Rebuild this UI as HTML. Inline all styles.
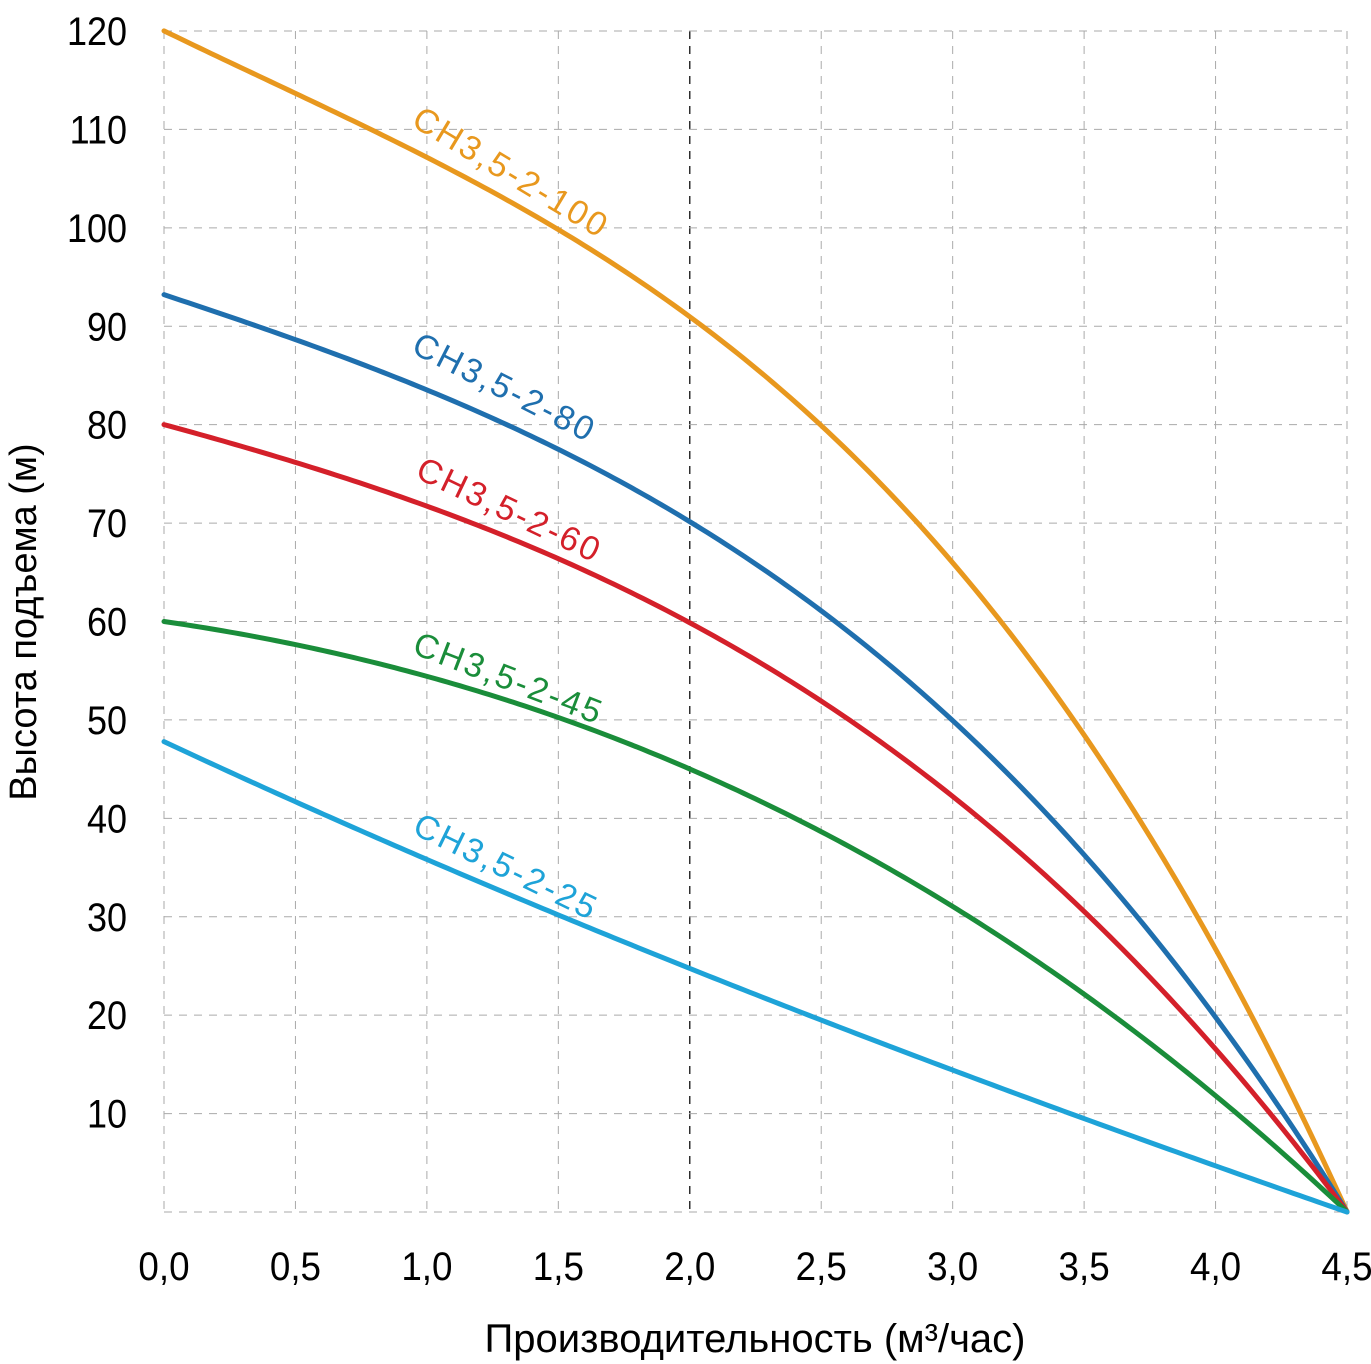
<!DOCTYPE html>
<html><head><meta charset="utf-8">
<style>
html,body{margin:0;padding:0;background:#fff;}
svg{display:block;}
text{font-family:"Liberation Sans","DejaVu Sans",sans-serif;}
</style></head>
<body>
<svg id="chart" width="1371" height="1364" viewBox="0 0 1371 1364" xmlns="http://www.w3.org/2000/svg">
<g id="grid"></g>
<g id="yticks"></g>
<g id="xticks"></g>
<g id="series"></g>
<g id="labels"></g>
<text x="755" y="1352" text-anchor="middle" font-size="40">Производительность (м³/час)</text>
<text x="0" y="0" text-anchor="middle" font-size="38" transform="translate(36 622) rotate(-90)">Высота подъема (м)</text>
</svg>
<script>
const xCats = [0,0.5,1.0,1.5,2.0,2.5,3.0,3.5,4.0,4.5];
const xTickLabels = ["0,0","0,5","1,0","1,5","2,0","2,5","3,0","3,5","4,0","4,5"];
const yTicks = [10,20,30,40,50,60,70,80,90,100,110,120];
const yTickLabels = ["10","20","30","40","50","60","70","80","90","100","110","120"];
const seriesNames = ["СН3,5-2-100","СН3,5-2-80","СН3,5-2-60","СН3,5-2-45","СН3,5-2-25"];
const s100 = [120,114.3,108.2,99.8,90.3,79,65.4,49,28.6,0];
const s80 = [93.2,88.8,84.2,77.5,70,60.2,49.8,36.6,20.8,0];
const s60 = [80,76.4,71.9,66.6,60,51,42.2,30.4,17.8,0];
const s45 = [60,57.7,54.6,50.4,45,38.2,31,22,12.6,0];
const s25 = [47.8,41.3,35.6,30.3,25,19.8,14.3,9.2,4.6,0];

const NS="http://www.w3.org/2000/svg";
const X0=164, X1=1347, Y0=1212, Y1=31;
function sx(v){return X0+(v-0)/(4.5)*(X1-X0);}
function sy(v){return Y0-(v/120)*(Y0-Y1);}
function mk(tag,attrs,parent){const e=document.createElementNS(NS,tag);for(const k in attrs)e.setAttribute(k,attrs[k]);parent.appendChild(e);return e;}

const grid=document.getElementById('grid');
xCats.forEach((v,i)=>{
  const l=mk('line',{x1:sx(v),x2:sx(v),y1:Y1,y2:Y0,stroke:(v===2.0?'#111':'#aaa'),'stroke-width':(v===2.0?1.3:1),'stroke-dasharray':'8,7'},grid);
  
  
});
[0].concat(yTicks).forEach(v=>{
  const l=mk('line',{x1:X0,x2:X1,y1:sy(v),y2:sy(v),stroke:'#aaa','stroke-width':1,'stroke-dasharray':'8,7'},grid);
  
  
});
const yt=document.getElementById('yticks');
yTicks.forEach((v,i)=>{
  const t=mk('text',{x:0,y:0,'text-anchor':'end','font-size':40,transform:`translate(127 ${sy(v)+14}) scale(0.9 1)`},yt);
  t.textContent=yTickLabels[i];
  
  
});
const xt=document.getElementById('xticks');
xCats.forEach((v,i)=>{
  const t=mk('text',{x:0,y:0,'text-anchor':'middle','font-size':40,transform:`translate(${sx(v)} 1280) scale(0.92 1)`},xt);
  t.textContent=xTickLabels[i];
  
  
});
// weighted least-squares polynomial fit (degree 3) for smooth rendering
function polyfit(xs,ys,deg){
  const n=deg+1;const A=[];for(let i=0;i<n;i++){A.push(new Array(n+1).fill(0));}
  for(let k=0;k<xs.length;k++){
    const w=(k===0||k===xs.length-1)?40:1;
    for(let i=0;i<n;i++){
      for(let j=0;j<n;j++)A[i][j]+=w*Math.pow(xs[k],i+j);
      A[i][n]+=w*ys[k]*Math.pow(xs[k],i);
    }
  }
  for(let i=0;i<n;i++){
    let m=i;for(let r=i+1;r<n;r++)if(Math.abs(A[r][i])>Math.abs(A[m][i]))m=r;
    [A[i],A[m]]=[A[m],A[i]];
    for(let r=0;r<n;r++){if(r===i)continue;const f=A[r][i]/A[i][i];for(let c=i;c<=n;c++)A[r][c]-=f*A[i][c];}
  }
  return A.map((row,i)=>row[n]/row[i]);
}
function pathFor(vals){
  const c=polyfit(xCats,vals,3);
  const xmin=xCats[0],xmax=xCats[xCats.length-1];
  let d='';
  for(let k=0;k<=200;k++){
    const q=xmin+(xmax-xmin)*k/200;
    let v=0;for(let i=c.length-1;i>=0;i--)v=v*q+c[i];
    d+=(k?' L':'M')+sx(q).toFixed(2)+','+sy(v).toFixed(2);
  }
  return d;
}
const colors=["#e8981e","#1f6fae","#d4202a","#1a8d3a","#1ea3d8"];
const allSeries=[s100,s80,s60,s45,s25];
const ser=document.getElementById('series');
allSeries.forEach((vals,i)=>{
  const p=mk('path',{d:pathFor(vals),fill:'none',stroke:colors[i],'stroke-width':5,'stroke-linecap':'round','stroke-linejoin':'round'},ser);
  
  
});
const lab=document.getElementById('labels');
const labelPos=[[410,125,31],[410,352,27],[414,477,25.5],[411,653,21],[411,833,26]];
seriesNames.forEach((n,i)=>{
  const [x,y,a]=labelPos[i];
  const t=mk('text',{x:0,y:0,'font-size':34,'letter-spacing':2.5,fill:colors[i],transform:`translate(${x} ${y}) rotate(${a})`},lab);
  t.textContent=n;
  
  
});
</script>
</body></html>
